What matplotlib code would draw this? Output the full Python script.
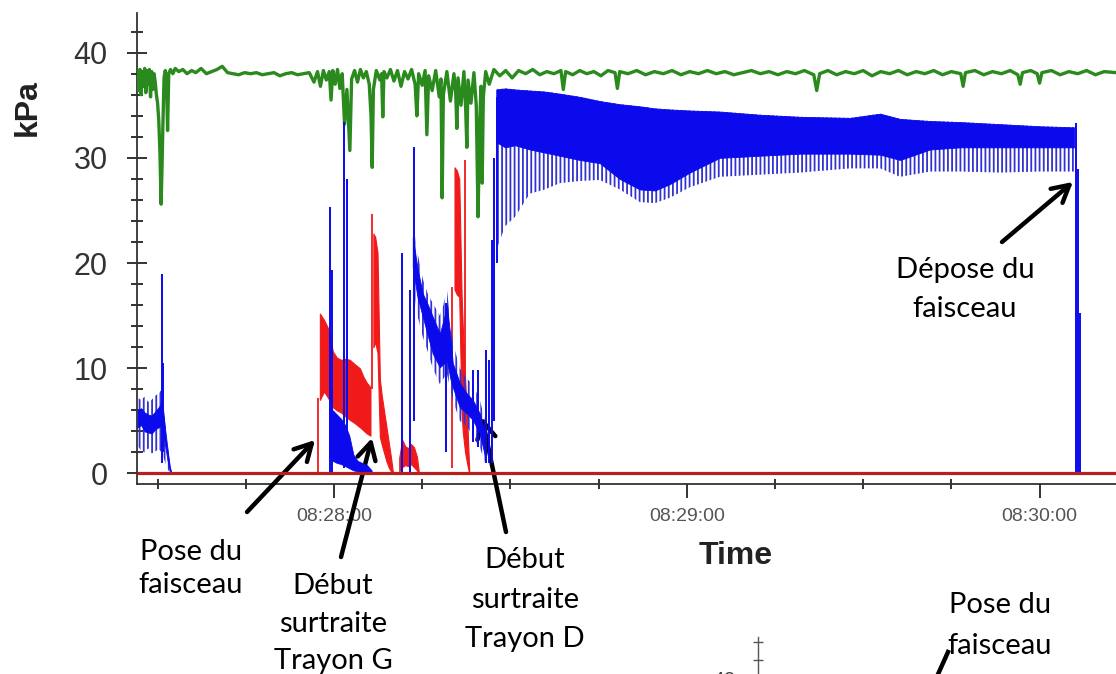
import numpy as np
import matplotlib
matplotlib.use("Agg")
import matplotlib.pyplot as plt
from matplotlib.ticker import MultipleLocator, FixedLocator
from matplotlib.lines import Line2D

# ---------------- data (time = seconds after 08:27:00, values in kPa) ----------------
# blue channel: early burst (t, stripe low, dense low, dense high, stripe high)
blue_early_t   = [26.6, 27.2, 27.8, 28.4, 29.0, 29.6, 30.2, 30.7, 31.2, 31.7, 32.1, 32.4]
blue_early_slo = [2.6, 2.2, 2.0, 2.4, 1.9, 2.1, 2.3, 2.0, 1.2, 0.4, 0.1, 0.0]
blue_early_blo = [4.4, 4.6, 4.0, 3.9, 3.8, 4.2, 4.4, 4.6, 3.0, 1.2, 0.3, 0.0]
blue_early_bhi = [6.0, 6.2, 5.8, 5.6, 5.5, 5.9, 6.3, 6.8, 4.6, 2.2, 0.6, 0.0]
blue_early_shi = [7.2, 7.0, 7.3, 6.8, 7.0, 7.4, 7.6, 8.0, 5.5, 3.0, 0.8, 0.0]

# blue block under the first red burst
blue_mid_t  = [59.2, 59.8, 60.5, 61.2, 61.9, 62.6, 63.3, 64.0, 64.8, 65.6, 66.4]
blue_mid_lo = [1.4, 1.2, 1.0, 0.9, 0.7, 0.5, 0.3, 0.2, 0.1, 0.1, 0.0]
blue_mid_hi = [6.2, 6.0, 5.6, 5.2, 4.6, 3.6, 1.8, 1.2, 1.0, 0.8, 0.3]

# blue descending band
blue_desc_t   = [73.4, 74.2, 75.1, 76.0, 76.8, 78.0, 78.6, 79.2, 79.8, 80.2, 81.4, 82.6, 83.6, 84.8, 85.7]
blue_desc_slo = [18.0, 15.0, 13.0, 11.5, 10.0, 8.5, 9.0, 9.5, 8.0, 7.0, 5.0, 4.5, 3.5, 2.5, 1.0]
blue_desc_blo = [19.6, 16.8, 14.9, 13.0, 11.4, 10.1, 10.4, 10.8, 9.0, 8.2, 6.3, 5.7, 5.1, 3.8, 1.6]
blue_desc_bhi = [22.5, 19.5, 17.1, 16.0, 14.9, 13.3, 14.5, 16.0, 13.0, 10.5, 8.6, 7.6, 7.0, 5.7, 3.8]
blue_desc_shi = [24.0, 21.0, 18.5, 17.0, 16.2, 15.0, 16.0, 17.5, 14.5, 12.5, 10.0, 9.0, 8.5, 7.0, 5.0]

# blue main milking band
blue_main_t   = [87.6, 89.1, 90.8, 93.3, 95.9, 98.4, 101.8, 105.2, 108.6, 112.0,
                 114.6, 117.1, 120.5, 125.6, 132.4, 139.3, 147.8, 152.9, 156.3, 161.4,
                 166.5, 173.3, 180.1, 185.9]
blue_main_slo = [21.2, 23.5, 24.4, 26.6, 27.0, 27.6, 27.8, 27.9, 27.0, 25.8,
                 25.7, 26.2, 27.2, 28.2, 28.4, 28.6, 29.0, 29.0, 28.2, 28.7,
                 28.7, 28.6, 28.7, 28.7]
blue_main_blo = [31.5, 31.0, 31.2, 30.8, 30.5, 30.2, 29.8, 29.5, 28.0, 27.0,
                 26.9, 27.5, 28.6, 30.0, 30.2, 30.4, 30.4, 30.3, 29.8, 30.8,
                 31.0, 31.0, 31.0, 31.0]
blue_main_bhi = [36.5, 36.6, 36.5, 36.4, 36.3, 36.1, 35.8, 35.4, 35.1, 34.9,
                 34.7, 34.6, 34.5, 34.4, 34.1, 33.9, 33.8, 34.2, 33.7, 33.5,
                 33.4, 33.2, 33.0, 32.9]

# isolated blue pulses (time, low, high)
blue_spk_t  = [30.75, 30.95, 59.4, 59.7, 61.7, 62.2, 71.6, 72.9, 73.6, 79.0,
               83.6, 84.5, 85.9, 86.4, 86.9, 87.3, 87.7, 186.2, 186.6, 186.9]
blue_spk_lo = [1.0, 2.0, 0.0, 0.0, 0.5, 1.0, 0.0, 0.0, 5.0, 2.0,
               3.0, 2.5, 1.0, 1.0, 1.0, 5.0, 20.0, 0.0, 0.0, 0.0]
blue_spk_hi = [19.0, 10.5, 25.3, 19.3, 33.4, 28.0, 21.0, 17.4, 31.0, 16.2,
               9.8, 9.8, 11.7, 10.8, 22.2, 30.0, 35.8, 33.3, 28.9, 15.3]

# red channel bursts (t, low, high)
red_a_t  = [57.6, 58.3, 59.0, 59.8, 60.5, 61.2, 62.0, 62.7, 63.5, 64.4, 65.0, 65.6, 66.2]
red_a_lo = [7.0, 7.8, 7.2, 6.3, 6.0, 5.8, 5.4, 5.1, 4.8, 4.4, 4.1, 3.8, 3.6]
red_a_hi = [15.2, 14.6, 13.8, 11.6, 11.0, 10.8, 10.9, 10.8, 10.4, 10.0, 9.2, 8.6, 8.2]
red_b_t  = [66.7, 67.0, 67.4, 67.8, 68.1, 68.5, 68.9, 69.3, 69.7, 70.0]
red_b_lo = [12.0, 12.5, 11.5, 3.5, 2.8, 2.0, 1.2, 0.6, 0.2, 0.0]
red_b_hi = [22.8, 22.5, 21.0, 9.0, 7.5, 6.0, 4.5, 3.0, 1.5, 0.2]
red_c_t  = [71.1, 71.6, 72.1, 72.6, 73.1, 73.6, 74.1, 74.4]
red_c_lo = [0.2, 0.6, 0.8, 0.7, 0.9, 0.6, 0.3, 0.0]
red_c_hi = [1.5, 3.2, 2.6, 2.4, 2.8, 2.5, 1.6, 0.3]
red_d_t  = [80.5, 80.9, 81.3, 81.7, 81.9, 82.3, 82.7, 83.0]
red_d_lo = [17.5, 17.0, 16.8, 6.0, 4.0, 2.0, 0.8, 0.0]
red_d_hi = [29.1, 28.8, 28.0, 17.0, 14.0, 9.0, 4.5, 0.3]
red_spk_t  = [57.3, 66.5, 80.1, 82.3]
red_spk_lo = [0.0, 8.0, 0.5, 3.8]
red_spk_hi = [7.2, 24.7, 17.7, 29.8]

# green channel (continuous trace)
green_t = [26.6, 26.8, 27.0, 27.2, 27.4, 27.6, 27.8, 28.0, 28.2, 28.4,
           28.6, 28.8, 29.0, 29.2, 29.4, 29.6, 29.8, 30.0, 30.2, 30.4,
           30.6, 30.75, 30.9, 31.1, 31.3, 31.5, 31.7, 31.9, 32.2, 32.6,
           33.0, 33.6, 34.3, 35.0, 35.8, 36.5, 37.4, 38.3, 39.2, 40.1,
           41.0, 41.9, 42.8, 43.8, 44.8, 45.8, 46.8, 47.8, 48.8, 49.8,
           50.8, 51.8, 52.8, 53.8, 54.8, 55.8, 56.6, 57.2, 57.7, 58.2,
           58.7, 59.2, 59.5, 59.8, 60.2, 60.6, 61.0, 61.4, 61.8, 62.2,
           62.5, 62.7, 63.0, 63.5, 64.0, 64.5, 65.0, 65.5, 66.0, 66.3,
           66.5, 66.7, 67.2, 67.8, 68.1, 68.3, 68.5, 69.0, 69.6, 70.2,
           70.8, 71.4, 72.0, 72.6, 73.2, 73.8, 74.1, 74.4, 75.0, 75.5,
           75.8, 76.1, 76.7, 77.3, 77.9, 78.2, 78.4, 78.6, 79.2, 79.8,
           80.4, 80.7, 80.9, 81.1, 81.6, 82.1, 82.4, 82.6, 82.8, 83.3,
           83.8, 84.2, 84.5, 84.8, 85.0, 85.2, 85.4, 85.8, 86.4, 87.2,
           88.2, 89.2, 90.3, 91.4, 92.6, 93.8, 95.0, 96.2, 97.4, 98.6,
           99.0, 99.4, 100.6, 101.8, 103.0, 104.2, 105.4, 106.6, 107.8, 108.2,
           108.6, 110.0, 111.5, 113.0, 114.5, 116.0, 117.5, 119.0, 120.5, 122.0,
           123.5, 125.0, 126.5, 128.0, 129.5, 131.0, 132.5, 134.0, 135.5, 137.0,
           138.5, 140.0, 141.6, 142.1, 142.6, 144.0, 145.5, 147.0, 148.5, 150.0,
           151.5, 153.0, 154.5, 156.0, 157.5, 159.0, 160.5, 162.0, 163.5, 165.0,
           166.6, 167.0, 167.4, 169.0, 170.5, 172.0, 173.5, 175.0, 176.3, 176.7,
           177.1, 178.5, 179.6, 180.0, 180.4, 182.0, 183.5, 185.0, 186.5, 188.0,
           189.5, 191.0, 193.0]
green_v = [38.3, 36.4, 38.4, 36.0, 38.2, 36.8, 38.5, 36.2, 38.3, 37.0,
           38.4, 35.8, 38.2, 36.5, 38.0, 37.2, 36.0, 35.2, 33.6, 30.5,
           25.6, 29.0, 33.0, 37.6, 38.3, 37.8, 32.6, 38.0, 38.4, 38.0,
           38.5, 38.2, 38.4, 38.0, 38.3, 38.1, 38.5, 38.0, 38.2, 38.4,
           38.7, 38.1, 38.0, 37.9, 38.1, 38.0, 38.1, 37.9, 38.0, 38.1,
           37.8, 38.0, 38.1, 37.9, 38.0, 38.1, 37.2, 38.2, 36.8, 38.3,
           37.4, 38.2, 35.5, 38.3, 37.0, 38.4, 36.6, 38.0, 33.2, 36.5,
           33.0, 30.7, 37.5, 38.3, 37.2, 38.4, 37.6, 38.2, 37.0, 34.0,
           29.1, 36.5, 38.3, 37.4, 38.0, 33.9, 38.2, 37.6, 38.4, 37.3,
           38.3, 36.8, 38.2, 37.5, 38.4, 37.0, 34.0, 38.0, 36.9, 38.3,
           32.2, 37.8, 36.4, 38.3, 35.8, 37.5, 26.2, 36.0, 38.2, 35.4,
           38.0, 36.2, 32.8, 37.6, 35.0, 38.2, 34.6, 31.0, 37.4, 35.2,
           38.1, 35.0, 24.4, 33.5, 36.8, 27.6, 35.8, 38.2, 37.0, 38.4,
           37.8, 38.3, 37.6, 38.3, 38.0, 38.4, 37.9, 38.2, 38.0, 38.3,
           36.5, 38.2, 37.9, 38.3, 38.0, 38.2, 37.8, 38.3, 38.1, 36.6,
           38.2, 38.0, 38.3, 37.9, 38.2, 38.0, 38.3, 37.9, 38.2, 38.0,
           38.3, 38.0, 38.2, 37.9, 38.1, 38.3, 38.0, 38.2, 37.9, 38.2,
           38.0, 38.3, 37.9, 36.4, 38.0, 38.3, 37.9, 38.2, 38.0, 38.3,
           37.8, 38.2, 38.0, 38.3, 37.9, 38.2, 38.0, 38.3, 37.9, 38.2,
           38.0, 36.8, 38.1, 38.3, 37.9, 38.2, 38.0, 38.3, 37.9, 37.0,
           38.1, 38.3, 38.0, 37.1, 38.1, 38.3, 37.9, 38.2, 38.0, 38.3,
           37.9, 38.2, 38.1]

# dark red zero channel
zero_t = [26.5, 193.0]
zero_v = [0.0, 0.0]

xtick_pos = [60, 120, 180]
xtick_labels = ["08:28:00", "08:29:00", "08:30:00"]

# ---------------- figure ----------------
W, H, DPI = 1116, 674, 100
plt.rcParams["hatch.linewidth"] = 1.3
plt.rcParams["font.family"] = ["Liberation Sans", "DejaVu Sans"]
fig = plt.figure(figsize=(W / DPI, H / DPI), dpi=DPI)
fig.patch.set_facecolor("white")


def fx(px):
    return px / W


def fy(py):
    return 1 - py / H


ax = fig.add_axes([fx(137), fy(484), fx(1116) - fx(137), fy(13) - fy(484)])
ax.set_xlim(26.5, 193.0)
ax.set_ylim(-1.0, 43.77)

BLUE = "#0a0aec"
BLUE_STRIPE = "#3232d2"
RED = "#f01a1a"
GREEN = "#2a8a1e"


def pulsed(t, slo, blo, bhi, shi, color, scolor, z):
    ax.fill_between(t, slo, shi, facecolor="none", edgecolor=scolor,
                    hatch="||||", linewidth=0, zorder=z)
    ax.fill_between(t, blo, bhi, facecolor=color, edgecolor=color,
                    linewidth=0.6, zorder=z + 0.1)


# red
for t, lo, hi in [(red_a_t, red_a_lo, red_a_hi), (red_b_t, red_b_lo, red_b_hi),
                  (red_c_t, red_c_lo, red_c_hi), (red_d_t, red_d_lo, red_d_hi)]:
    ax.fill_between(t, lo, hi, facecolor=RED, edgecolor=RED, linewidth=0.8, zorder=2)
ax.vlines(red_spk_t, red_spk_lo, red_spk_hi, colors=RED, linewidth=1.3, zorder=2)

# green
ax.plot(green_t, green_v, color=GREEN, linewidth=2.4, zorder=3)

# blue
pulsed(blue_early_t, blue_early_slo, blue_early_blo, blue_early_bhi, blue_early_shi,
       BLUE, BLUE_STRIPE, 4)
ax.fill_between(blue_mid_t, blue_mid_lo, blue_mid_hi, facecolor=BLUE, edgecolor=BLUE,
                linewidth=0.6, zorder=4)
pulsed(blue_desc_t, blue_desc_slo, blue_desc_blo, blue_desc_bhi, blue_desc_shi,
       BLUE, BLUE_STRIPE, 4)
pulsed(blue_main_t, blue_main_slo, blue_main_blo, blue_main_bhi, blue_main_bhi,
       BLUE, BLUE_STRIPE, 4)
ax.vlines(blue_spk_t, blue_spk_lo, blue_spk_hi, colors=BLUE, linewidth=1.4, zorder=4.5)

# zero line
ax.plot(zero_t, zero_v, color="#b3201e", linewidth=2.3, zorder=6, solid_capstyle="butt")

# axes styling
for s in ["top", "right"]:
    ax.spines[s].set_visible(False)
for s in ["left", "bottom"]:
    ax.spines[s].set_color("#333333")
    ax.spines[s].set_linewidth(1.3)
ax.set_facecolor("white")

ax.yaxis.set_major_locator(MultipleLocator(10))
ax.yaxis.set_minor_locator(MultipleLocator(2))
ax.xaxis.set_major_locator(FixedLocator(xtick_pos))
ax.xaxis.set_minor_locator(MultipleLocator(15))
ax.set_xticklabels(xtick_labels)

ax.tick_params(axis="y", which="major", direction="inout", length=14, width=1.4,
               pad=14, labelsize=22, color="#333333", labelcolor="#333333")
ax.tick_params(axis="y", which="minor", direction="inout", length=8.5, width=1.4,
               color="#333333")
ax.tick_params(axis="x", which="major", direction="out", length=10, width=1.4,
               pad=7, labelsize=14, color="#333333", labelcolor="#555555")
ax.tick_params(axis="x", which="minor", direction="inout", length=7, width=1.4,
               color="#333333")

# axis titles
fig.text(fx(27.5), fy(107.5), "kPa", rotation=90, ha="center", va="center",
         fontsize=23, fontweight="bold", color="#222222")
fig.text(fx(736), fy(556), "Time", ha="center", va="center",
         fontsize=23, fontweight="bold", color="#222222")

# annotations
ann_font = dict(family=["Lato", "DejaVu Sans"], fontsize=21, color="black",
                ha="center", va="top", multialignment="center")
fig.text(fx(191), fy(539), "Pose du\nfaisceau", linespacing=1.35, **ann_font)
fig.text(fx(333), fy(573), "Début\nsurtraite\nTrayon G", linespacing=1.55, **ann_font)
fig.text(fx(525), fy(547), "Début\nsurtraite\nTrayon D", linespacing=1.65, **ann_font)
fig.text(fx(965), fy(257), "Dépose du\nfaisceau", linespacing=1.6, **ann_font)
fig.text(fx(1000), fy(592), "Pose du\nfaisceau", linespacing=1.7, **ann_font)

arrow_kw = dict(arrowstyle="->,head_length=0.55,head_width=0.3", lw=3.2,
                color="black", shrinkA=0, shrinkB=0, mutation_scale=22)
arrows = [((56.77, 3.18), (247, 512)),
          ((66.46, 3.37), (341, 557)),
          ((85.17, 5.37), (506, 532)),
          ((185.68, 27.71), (1002, 242))]
for tip, tail in arrows:
    ax.annotate("", xy=tip, xycoords="data",
                xytext=(fx(tail[0]), fy(tail[1])), textcoords="figure fraction",
                arrowprops=arrow_kw, annotation_clip=False)

# partial arrow toward the lower (cropped) chart
fig.add_artist(Line2D([fx(948), fx(930)], [fy(652), fy(692)],
                      transform=fig.transFigure, color="black", lw=3.2))

# cropped second chart axis at the bottom
ax2 = fig.add_axes([fx(758), fy(1038), 0.05, (1038 - 637) / H])
ax2.set_ylim(0, 44.56)
ax2.set_xlim(0, 1)
ax2.patch.set_alpha(0)
for s in ["top", "right", "bottom"]:
    ax2.spines[s].set_visible(False)
ax2.spines["left"].set_color("#555555")
ax2.spines["left"].set_linewidth(1.0)
ax2.set_xticks([])
ax2.yaxis.set_major_locator(MultipleLocator(10))
ax2.yaxis.set_minor_locator(MultipleLocator(2))
ax2.tick_params(axis="y", which="major", direction="inout", length=8, width=1.0,
                pad=12, labelsize=15, color="#555555", labelcolor="#444444")
ax2.tick_params(axis="y", which="minor", direction="inout", length=7, width=1.0,
                color="#555555")

fig.savefig("out.png", dpi=DPI, facecolor="white")
